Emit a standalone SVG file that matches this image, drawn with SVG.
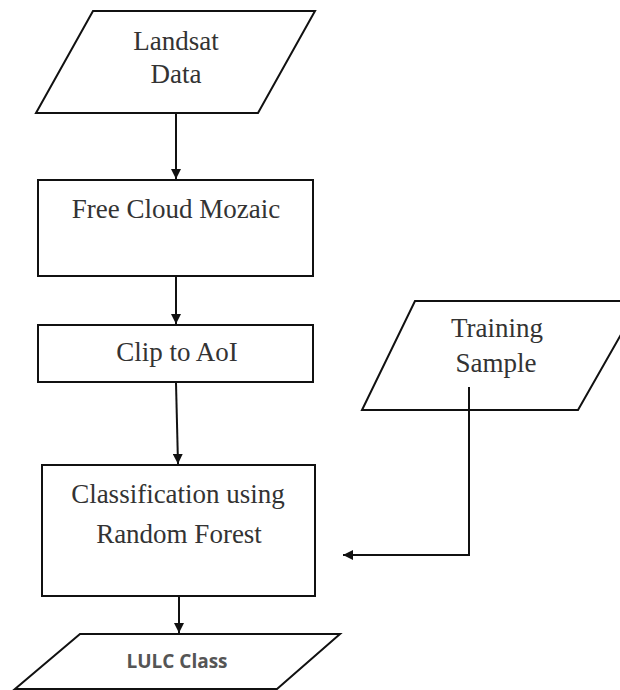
<svg xmlns="http://www.w3.org/2000/svg" width="620" height="690" viewBox="0 0 620 690">
<style>
.shape{fill:#fff;stroke:#111;stroke-width:2}
.t{font-family:"Liberation Serif","Times New Roman",serif;font-size:27px;fill:#333;text-anchor:middle}
.s{font-family:"Open Sans","Liberation Sans",sans-serif;font-weight:bold;font-size:19px;fill:#555;text-anchor:middle}
.c{fill:none;stroke:#111;stroke-width:2}
</style>
<defs>
<marker id="ah" viewBox="0 0 10 10" refX="10" refY="5" markerWidth="10" markerHeight="10" markerUnits="userSpaceOnUse" orient="auto">
<path d="M0,0 L10,5 L0,10 Z" fill="#111"/>
</marker>
</defs>
<rect width="620" height="690" fill="#fff"/>
<g id="landsat">
<polygon class="shape" points="93,11 315,11 258,113 36,113"/>
<text class="t" x="176" y="50">Landsat</text>
<text class="t" x="176" y="83">Data</text>
</g>
<g id="mozaic">
<rect class="shape" x="38" y="180" width="275" height="96"/>
<text class="t" x="176" y="218">Free Cloud Mozaic</text>
</g>
<g id="clip">
<rect class="shape" x="38" y="325" width="275" height="57"/>
<text class="t" x="177" y="361">Clip to AoI</text>
</g>
<g id="training">
<polygon class="shape" points="415,301 640,301 578,410 362,410"/>
<text class="t" x="497" y="337">Training</text>
<text class="t" x="496" y="372">Sample</text>
</g>
<g id="classification">
<rect class="shape" x="42" y="465" width="273" height="131"/>
<text class="t" x="178" y="503">Classification using</text>
<text class="t" x="179" y="543">Random Forest</text>
</g>
<g id="lulc">
<polygon class="shape" points="80,634 340,634 277,689 15,689"/>
<text class="s" x="177" y="668">LULC Class</text>
</g>
<g id="connectors">
<line class="c" x1="176" y1="114" x2="176" y2="179" marker-end="url(#ah)"/>
<line class="c" x1="176" y1="277" x2="176" y2="324" marker-end="url(#ah)"/>
<line class="c" x1="176" y1="383" x2="178" y2="464" marker-end="url(#ah)"/>
<polyline class="c" points="469,387 469,555 343,555" marker-end="url(#ah)"/>
<line class="c" x1="179" y1="597" x2="179" y2="633" marker-end="url(#ah)"/>
</g>
</svg>
